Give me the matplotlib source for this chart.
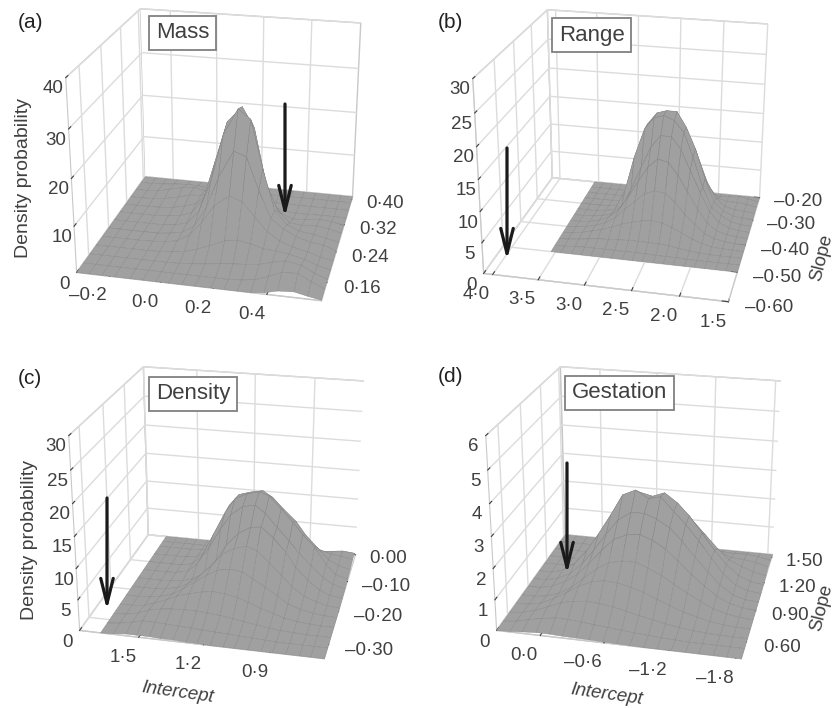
"""Four density surfaces of intercept against slope, one panel per trait."""
import matplotlib

matplotlib.use('Agg')

import matplotlib.pyplot as plt
import numpy as np

plt.rcParams['font.family'] = ['Liberation Sans', 'DejaVu Sans']
plt.rcParams['grid.color'] = '#dcdcdc'
plt.rcParams['grid.linewidth'] = 1.0

MASS_X = [-0.33, -0.28, -0.23, -0.18, -0.12, -0.07, -0.02, 0.03, 0.08, 0.13, 0.19, 0.24, 0.29, 0.34, 0.39, 0.44, 0.50, 0.55, 0.60]
MASS_Y = [0.115, 0.14, 0.165, 0.19, 0.215, 0.24, 0.265, 0.29, 0.315, 0.34, 0.365, 0.39, 0.41]
MASS_Z = [
    [0, 0, 0, 0, 0, 0, 0, 0, 0, 0, 0, 0, 0, 0, .3, 1, 1.2, .6, .1],
    [0, 0, 0, 0, 0, 0, 0, 0, 0, 0, 0, 0, .2, .6, 1.6, 2.8, 3, 1.5, .3],
    [0, 0, 0, 0, 0, 0, 0, .1, .3, .6, 1, 1.3, 1.5, 1.8, 2.6, 3.2, 2.6, 1.2, .2],
    [0, 0, 0, 0, 0, .1, .3, .7, 1.5, 2.6, 4, 4.5, 4, 3.2, 3, 2.6, 1.8, .8, .1],
    [0, 0, 0, 0, .1, .3, .8, 2.4, 5.5, 9.5, 12, 11, 8, 5, 3.2, 2.2, 1.4, .6, .1],
    [0, 0, 0, 0, 0, .3, .8, 2.5, 7, 14, 20, 19, 12, 6, 4, 2.5, 1.6, 1.2, .3],
    [0, 0, 0, 0, 0, .3, 1, 4, 11, 21.5, 27.5, 25.5, 15, 6, 3, 1.8, 1.4, .8, .2],
    [0, 0, 0, 0, .2, .6, 1.5, 5, 14, 23, 26.5, 22, 10, 4, 1.5, 1.2, 1.4, 1, .3],
    [0, 0, 0, .1, .4, 1, 1.8, 4.5, 11, 18, 20, 13, 5, 1.5, .5, .6, 1, .8, .2],
    [0, 0, .1, .4, 1, 1.8, 2, 2.6, 4, 6, 6, 3.5, 1, .2, 0, 0, .1, .1, 0],
    [0, 0, .2, .8, 1.6, 1.8, 1.4, 1, 1, 1.2, 1, .4, .1, 0, 0, 0, 0, 0, 0],
    [0, 0, .1, .4, .6, .5, .2, .1, 0, 0, 0, 0, 0, 0, 0, 0, 0, 0, 0],
    [0, 0, 0, 0, 0, 0, 0, 0, 0, 0, 0, 0, 0, 0, 0, 0, 0, 0, 0],
]

RANGE_X = [3.55, 3.44, 3.32, 3.21, 3.10, 2.98, 2.87, 2.75, 2.64, 2.53, 2.41, 2.30, 2.19, 2.07, 1.96, 1.85, 1.73, 1.62, 1.50]
RANGE_Y = [-0.50, -0.475, -0.45, -0.425, -0.40, -0.375, -0.35, -0.325, -0.30, -0.275, -0.25, -0.225, -0.20]
RANGE_Z = [
    [0, 0, 0, 0, 0, 0, 0, 0, 0, 0, 0, 0, 0, 0, 0, 0, 0, 0, 0],
    [0, 0, .1, .2, .2, .2, .2, .2, .2, .2, .1, .1, .1, 0, 0, 0, 0, 0, 0],
    [0, .1, .3, .5, .7, .8, .9, 1, 1, 1, .9, .8, .5, .3, .1, 0, 0, 0, 0],
    [0, .1, .4, .8, 1.2, 1.8, 2.5, 3, 3.4, 3.6, 3.4, 2.8, 2, 1.2, .6, .2, .1, 0, 0],
    [0, .1, .3, .7, 1.3, 2.4, 4, 5.6, 7, 7.6, 7.4, 6, 4.2, 2.6, 1.2, .5, .2, 0, 0],
    [0, 0, .2, .5, 1.2, 2.6, 5, 8, 10.5, 12, 11.6, 9.6, 7, 4.2, 2, .8, .3, .1, 0],
    [0, 0, .1, .3, .8, 2.4, 5.4, 9.5, 13, 15, 15, 13, 9.6, 6, 3, 1.2, .4, .1, 0],
    [0, 0, 0, .2, .6, 4, 10, 15, 17, 17.5, 16.8, 15, 11, 6, 2.6, 1.4, .4, .1, 0],
    [0, 0, 0, .1, .3, 3.5, 9.5, 15, 17, 17.5, 17.5, 15, 11.5, 6.5, 2.6, 1.2, .4, .2, .1],
    [0, 0, 0, 0, .1, 1.2, 3.5, 8, 12, 13.5, 14, 13, 9.5, 5, 2.2, .9, .5, .4, .2],
    [0, 0, 0, 0, 0, .2, .8, 2.2, 5, 7.5, 8.8, 8.4, 6.4, 3.2, 1.2, .8, .8, .6, .3],
    [0, 0, 0, 0, 0, 0, .2, .6, 1.4, 2.6, 3, 2.8, 2, 1, .5, .7, .9, .6, .2],
    [0, 0, 0, 0, 0, 0, 0, 0, 0, 0, 0, 0, 0, 0, 0, 0, 0, 0, 0],
]

DENSITY_X = [1.68, 1.62, 1.56, 1.51, 1.45, 1.40, 1.34, 1.28, 1.23, 1.17, 1.11, 1.06, 1.00, 0.94, 0.89, 0.83, 0.77, 0.72, 0.66]
DENSITY_Y = [-0.34, -0.31, -0.28, -0.25, -0.22, -0.19, -0.16, -0.13, -0.10, -0.07, -0.04, -0.02, 0.0]
DENSITY_Z = [
    [0, .1, .3, .3, .3, .2, .2, .1, .1, 0, 0, 0, 0, 0, 0, 0, 0, 0, 0],
    [0, .2, .6, 1, 1, .9, .8, .7, .6, .5, .4, .3, .2, .1, 0, 0, 0, 0, 0],
    [0, .1, .5, 1.2, 1.6, 1.8, 1.9, 1.9, 1.8, 1.6, 1.3, 1, .7, .4, .2, .1, 0, 0, 0],
    [0, 0, .2, .8, 1.6, 2.4, 3, 3.5, 3.8, 3.6, 3.2, 2.6, 1.8, 1.2, .6, .3, .1, 0, 0],
    [0, 0, .1, .4, 1, 2, 3.4, 4.8, 5.8, 6.2, 6, 5, 3.8, 2.6, 1.4, .7, .3, .1, 0],
    [0, 0, 0, .2, .6, 1.4, 3, 5, 7, 8.2, 8.8, 8.2, 6.4, 4.5, 2.8, 1.4, .6, .2, 0],
    [0, 0, 0, .1, .3, .8, 2, 4.4, 7.2, 9.4, 10.6, 10.8, 9.2, 7, 4.6, 2.6, 1.1, .4, .1],
    [0, 0, 0, .1, .5, 2, 5, 8.5, 11, 12.6, 13, 11.8, 9.6, 7.5, 5.6, 3.6, 1.8, .8, .2],
    [0, 0, 0, 0, .4, 2, 6, 10, 12.5, 13.5, 14, 13.5, 11.5, 9.4, 7.4, 5.5, 2.6, 1, .4],
    [0, 0, 0, 0, .3, 1.5, 5.5, 10, 12, 12.6, 13, 12, 10, 8.2, 6, 4, 2, 1.2, .6],
    [0, 0, 0, 0, .1, .6, 2.6, 5.8, 7.5, 8, 8, 7, 5.6, 4.4, 3, 2.2, 1.6, 1.4, 1],
    [0, 0, 0, 0, 0, 0, .1, .6, 1.4, 2, 2.4, 2.6, 2.4, 1.8, 1.2, 1, 1.2, 1.4, 1.2],
    [0, 0, 0, 0, 0, 0, 0, 0, 0, 0, 0, 0, 0, 0, 0, 0, 0, 0, 0],
]

GESTATION_X = [0.42, 0.29, 0.17, 0.04, -0.09, -0.21, -0.34, -0.46, -0.59, -0.72, -0.84, -0.97, -1.09, -1.22, -1.35, -1.47, -1.60, -1.72, -1.85]
GESTATION_Y = [0.45, 0.54, 0.63, 0.72, 0.81, 0.90, 0.99, 1.08, 1.17, 1.26, 1.35, 1.44, 1.53]
GESTATION_Z = [
    [0, .02, .05, .08, .08, .06, .05, .04, .03, .02, .01, 0, 0, 0, 0, 0, 0, 0, 0],
    [0, .05, .14, .24, .3, .3, .26, .22, .18, .14, .1, .07, .04, .02, 0, 0, 0, 0, 0],
    [0, .04, .15, .32, .5, .6, .64, .62, .55, .46, .36, .27, .18, .11, .06, .03, .01, 0, 0],
    [0, .02, .1, .3, .55, .8, 1, 1.08, 1.05, .95, .82, .65, .48, .32, .2, .1, .04, .01, 0],
    [0, 0, .05, .2, .45, .8, 1.15, 1.4, 1.5, 1.5, 1.35, 1.15, .9, .65, .42, .22, .1, .03, 0],
    [0, .02, .1, .3, .6, 1, 1.5, 1.9, 2.1, 2.15, 2, 1.75, 1.4, 1, .65, .35, .15, .05, .01],
    [0, 0, .1, .3, .7, 1.2, 1.8, 2.3, 2.6, 2.6, 2.45, 2.2, 1.8, 1.3, .85, .45, .15, .03, 0],
    [0, 0, .1, .4, .9, 1.5, 2.2, 2.9, 3.1, 2.85, 2.95, 2.5, 2.1, 1.6, 1.05, .55, .2, .05, 0],
    [0, 0, 0, .1, .4, .9, 1.6, 2.3, 2.8, 2.7, 2.85, 2.55, 2.15, 1.6, 1.05, .6, .25, .08, .02],
    [0, 0, 0, .02, .1, .35, .8, 1.3, 1.8, 2.1, 2.3, 2.1, 1.75, 1.3, .85, .5, .3, .15, .05],
    [0, 0, 0, 0, .02, .1, .3, .6, .9, 1.1, 1.25, 1.15, .95, .7, .45, .3, .27, .2, .1],
    [0, 0, 0, 0, 0, 0, 0, .02, .05, .12, .22, .3, .32, .28, .2, .18, .2, .15, .06],
    [0, 0, 0, 0, 0, 0, 0, 0, 0, 0, 0, 0, 0, 0, 0, 0, 0, 0, 0],
]

MASS_XTICKS = [-0.2, 0.0, 0.2, 0.4]
MASS_YTICKS = [0.16, 0.24, 0.32, 0.40]
MASS_ZTICKS = [0, 10, 20, 30, 40]
RANGE_XTICKS = [4.0, 3.5, 3.0, 2.5, 2.0, 1.5]
RANGE_YTICKS = [-0.60, -0.50, -0.40, -0.30, -0.20]
RANGE_ZTICKS = [0, 5, 10, 15, 20, 25, 30]
DENSITY_XTICKS = [1.5, 1.2, 0.9]
DENSITY_YTICKS = [-0.30, -0.20, -0.10, 0.00]
DENSITY_ZTICKS = [0, 5, 10, 15, 20, 25, 30]
GESTATION_XTICKS = [0.0, -0.6, -1.2, -1.8]
GESTATION_YTICKS = [0.60, 0.90, 1.20, 1.50]
GESTATION_ZTICKS = [0, 1, 2, 3, 4, 5, 6]

INK = '#404040'
W, H = 835, 708


def _fmt(v, places):
    # journal style: middle dot for the decimal point, en dash for minus
    s = f'{abs(v):.{places}f}'.replace('.', '\u00b7')
    return ('\u2013' + s) if v < 0 else s


def _rect(x0, y0, x1, y1):
    return [x0 / W, 1 - y1 / H, (x1 - x0) / W, (y1 - y0) / H]


def draw_panel(fig, rect, x, y, z, xlim, ylim, zmax, xticks, yticks, zticks):
    ax = fig.add_axes(_rect(*rect), projection='3d')
    ax.patch.set_alpha(0)
    ax.set_proj_type('persp', focal_length=0.6)
    ax.view_init(elev=22.5, azim=-77)
    ax.set_box_aspect((1.03, 1, 0.86), zoom=1.06)
    xx, yy = np.meshgrid(x, y)
    ax.plot_surface(xx, yy, np.array(z, dtype=float), rstride=1, cstride=1, color='#a0a0a0',
                    edgecolor='#868686', linewidth=0.3, shade=False, antialiased=True)
    ax.set_xlim(*xlim)
    ax.set_ylim(*ylim)
    ax.set_zlim(0, zmax)
    ax.set_xticks(xticks, [_fmt(v, 1) for v in xticks], ha='right')
    ax.set_yticks(yticks, [_fmt(v, 2) for v in yticks], ha='left', va='bottom')
    ax.set_zticks(zticks, [str(v) for v in zticks])
    ax.tick_params(axis='both', labelsize=13.5, labelcolor=INK, colors=INK)
    ax.tick_params(axis='x', pad=-3)
    ax.tick_params(axis='y', pad=1)
    ax.tick_params(axis='z', pad=-3)
    ax.zaxis.set_ticks_position('lower')
    for axis in (ax.xaxis, ax.yaxis, ax.zaxis):
        axis.set_pane_color((1, 1, 1, 1))
        axis.pane.set_edgecolor('#c8c8c8')
        axis.line.set_color('#c8c8c8')
        axis._axinfo['tick']['color'] = '#bbbbbb'
        axis._axinfo['tick']['inward_factor'] = 0.0
        axis._axinfo['tick']['outward_factor'] = 0.3
        axis.set_tick_params(labelcolor=INK)
    ax.grid(True)
    return ax


def label_box(fig, px, py, text):
    fig.text(px / W, 1 - py / H, text, fontsize=16, color=INK, ha='left', va='center',
             bbox=dict(boxstyle='square,pad=0.3', fc='white', ec='#808080', lw=1.3))


def arrow(fig, px, y0, y1):
    fig.add_artist(matplotlib.patches.FancyArrowPatch(
        (px / W, 1 - y0 / H), (px / W, 1 - y1 / H), transform=fig.transFigure,
        arrowstyle='->,head_length=18,head_width=4.5', color='#1a1a1a', lw=2.3, shrinkA=0, shrinkB=0))


fig = plt.figure(figsize=(W / 100, H / 100), dpi=100, facecolor='white')

draw_panel(fig, (10.5, -29, 427.5, 325), MASS_X, MASS_Y, MASS_Z, (-0.33, 0.60), (0.115, 0.41), 40,
           MASS_XTICKS, MASS_YTICKS, MASS_ZTICKS)
draw_panel(fig, (417.5, -28, 834.5, 326), RANGE_X, RANGE_Y, RANGE_Z, (4.1, 1.5), (-0.60, -0.20), 30,
           RANGE_XTICKS, RANGE_YTICKS, RANGE_ZTICKS)
draw_panel(fig, (13.5, 329, 430.5, 683), DENSITY_X, DENSITY_Y, DENSITY_Z, (1.78, 0.66), (-0.34, 0.0), 30,
           DENSITY_XTICKS, DENSITY_YTICKS, DENSITY_ZTICKS)
draw_panel(fig, (430.5, 329, 847.5, 683), GESTATION_X, GESTATION_Y, GESTATION_Z, (0.42, -1.85), (0.45, 1.53), 6,
           GESTATION_XTICKS, GESTATION_YTICKS, GESTATION_ZTICKS)

for px, py, s in [(18, 23, '(a)'), (438, 23, '(b)'), (18, 378, '(c)'), (438, 377, '(d)')]:
    fig.text(px / W, 1 - py / H, s, fontsize=15, color='#222222', ha='left', va='center')

label_box(fig, 156, 33, 'Mass')
label_box(fig, 559, 35, 'Range')
label_box(fig, 156, 394, 'Density')
label_box(fig, 572, 393, 'Gestation')

arrow(fig, 285, 104, 217)
arrow(fig, 507, 148, 260)
arrow(fig, 107, 498, 610)
arrow(fig, 567, 463, 574)

for px, py in ((24, 178), (30, 540)):
    fig.text(px / W, 1 - py / H, 'Density probability', fontsize=14, color=INK, rotation=90, ha='center', va='center')
for px, py in ((822, 258), (822, 608)):
    fig.text(px / W, 1 - py / H, 'Slope', fontsize=13.5, color=INK, rotation=76, ha='center', va='center')
for px, py in ((178, 693), (607, 695)):
    fig.text(px / W, 1 - py / H, 'Intercept', fontsize=13.5, style='italic', color=INK, rotation=-8, ha='center', va='center')

fig.savefig('out.png', dpi=100)
